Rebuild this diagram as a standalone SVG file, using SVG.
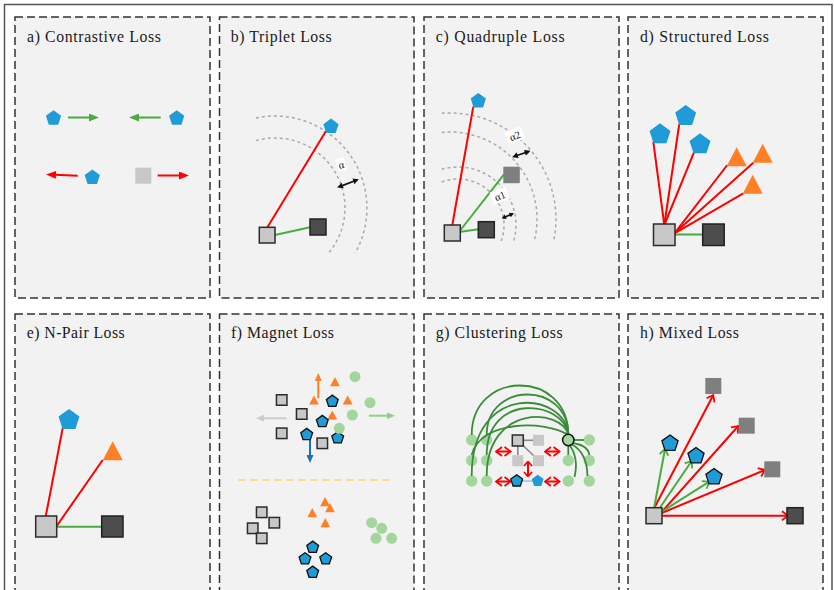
<svg xmlns="http://www.w3.org/2000/svg" xmlns:xlink="http://www.w3.org/1999/xlink" width="834" height="590" viewBox="0 0 834 590">
  <style>
    .frame { fill: #ffffff; stroke: #555555; stroke-width: 1.5; }
    .panel { fill: #f2f2f2; stroke: #333333; stroke-width: 1.5; stroke-dasharray: 8 4; }
    .title { font-family: "Liberation Serif", "Times New Roman", serif; font-size: 15.8px; fill: #1a1a1a; }
    .lbl { font-family: "Liberation Serif", "Times New Roman", serif; font-size: 10.5px; fill: #111111; }
    .lblbox { fill: #ffffff; }
    .ring { fill: none; stroke: #a9a9a9; stroke-width: 1.5; stroke-dasharray: 3 3; }
    .red { stroke: #ff0000; stroke-width: 2; fill: none; }
    .grn { stroke: #4aab3f; stroke-width: 2; fill: none; }
    .blk { stroke: #111111; stroke-width: 1.8; fill: none; }
    .anc { fill: #c8c8c8; stroke: #2b2b2b; stroke-width: 1.5; }
    .neg { fill: #4d4d4d; stroke: #222222; stroke-width: 1.5; }
    .mid { fill: #7f7f7f; }
    .lite { fill: #c8c8c8; }
    .blue { fill: #1f9bd8; }
    .blueS { fill: #1f9bd8; stroke: #111111; stroke-width: 1.3; }
    .ora { fill: #ff7f27; }
    .dot { fill: #a3d69c; }
    .arc { stroke: #3a8c3a; stroke-width: 1.8; fill: none; }
  </style>
  <defs>
    <!-- shape library -->
    <path id="p8" d="M0,-8 L7.61,-2.47 L4.70,6.47 L-4.70,6.47 L-7.61,-2.47 Z"/>
    <path id="p11" d="M0,-11 L10.46,-3.40 L6.47,8.90 L-6.47,8.90 L-10.46,-3.40 Z"/>
    <path id="p6" d="M0,-6.2 L5.90,-1.92 L3.64,5.02 L-3.64,5.02 L-5.90,-1.92 Z"/>
    <path id="p85" d="M0,-8.5 L8.08,-2.63 L5.00,6.88 L-5.00,6.88 L-8.08,-2.63 Z"/>
    <path id="t20" d="M0,-9.5 L10,9.5 L-10,9.5 Z"/>
    <path id="t9" d="M0,-4.6 L4.9,4.6 L-4.9,4.6 Z"/>
    <rect id="s10" x="-5.25" y="-5.25" width="10.5" height="10.5"/>
    <!-- arrowheads -->
    <marker id="ahG" viewBox="0 0 10 8" refX="7" refY="4" markerWidth="10" markerHeight="8" markerUnits="userSpaceOnUse" orient="auto"><path d="M0,0 L10,4 L0,8 Z" fill="#4aab3f"/></marker>
    <marker id="ahR" viewBox="0 0 10 8" refX="7" refY="4" markerWidth="10" markerHeight="8" markerUnits="userSpaceOnUse" orient="auto"><path d="M0,0 L10,4 L0,8 Z" fill="#ff0000"/></marker>
    <marker id="ahO" viewBox="0 0 8 7" refX="5" refY="3.5" markerWidth="8" markerHeight="7" markerUnits="userSpaceOnUse" orient="auto"><path d="M0,0 L8,3.5 L0,7 Z" fill="#ff7f27"/></marker>
    <marker id="ahB" viewBox="0 0 8 7" refX="5" refY="3.5" markerWidth="8" markerHeight="7" markerUnits="userSpaceOnUse" orient="auto"><path d="M0,0 L8,3.5 L0,7 Z" fill="#1a72b8"/></marker>
    <marker id="ahL" viewBox="0 0 8 7" refX="5" refY="3.5" markerWidth="8" markerHeight="7" markerUnits="userSpaceOnUse" orient="auto"><path d="M0,0 L8,3.5 L0,7 Z" fill="#8fd08a"/></marker>
    <marker id="ahY" viewBox="0 0 8 7" refX="5" refY="3.5" markerWidth="8" markerHeight="7" markerUnits="userSpaceOnUse" orient="auto"><path d="M0,0 L8,3.5 L0,7 Z" fill="#cccccc"/></marker>
    <marker id="ahK" viewBox="0 0 6 6" refX="4" refY="3" markerWidth="6" markerHeight="6" markerUnits="userSpaceOnUse" orient="auto-start-reverse"><path d="M0,0 L6,3 L0,6 Z" fill="#111111"/></marker>
    <marker id="ahKs" viewBox="0 0 4.5 5" refX="3" refY="2.5" markerWidth="4.5" markerHeight="5" markerUnits="userSpaceOnUse" orient="auto-start-reverse"><path d="M0,0 L4.5,2.5 L0,5 Z" fill="#111111"/></marker>
    <marker id="chR" viewBox="-1 -1 8 11" refX="6" refY="4.5" markerWidth="8" markerHeight="11" markerUnits="userSpaceOnUse" orient="auto-start-reverse"><path d="M0,0 L6,4.5 L0,9" fill="none" stroke="#ff0000" stroke-width="1.8"/></marker>
    <marker id="chRs" viewBox="-1 -1 6 10" refX="4.5" refY="4" markerWidth="6" markerHeight="10" markerUnits="userSpaceOnUse" orient="auto-start-reverse"><path d="M0,0 L4.5,4 L0,8" fill="none" stroke="#ff0000" stroke-width="1.8"/></marker>
    <marker id="chG" viewBox="-1 -1 8 11" refX="6" refY="4.5" markerWidth="8" markerHeight="11" markerUnits="userSpaceOnUse" orient="auto-start-reverse"><path d="M0,0 L6,4.5 L0,9" fill="none" stroke="#4aab3f" stroke-width="1.8"/></marker>
  </defs>

  <rect class="frame" x="4.5" y="4.5" width="827.5" height="620"/>

  <!-- ===== a) Contrastive Loss ===== -->
  <g id="panel-a">
    <rect class="panel" x="15" y="17" width="195" height="281"/>
    <text class="title" x="27" y="41.5" textLength="134" lengthAdjust="spacing">a) Contrastive Loss</text>
    <g id="a-nodes">
      <use href="#p8" class="blue" x="53.5" y="118.3"/>
      <use href="#p8" class="blue" x="176.7" y="118.3"/>
      <use href="#p8" class="blue" x="92.3" y="177.5"/>
      <rect class="lite" x="135.3" y="167.7" width="16" height="16"/>
    </g>
    <g id="a-connectors">
      <line class="grn" x1="68" y1="117.5" x2="96" y2="117.5" marker-end="url(#ahG)"/>
      <line class="grn" x1="160.7" y1="117.5" x2="132" y2="117.5" marker-end="url(#ahG)"/>
      <line class="red" x1="77.7" y1="175.7" x2="49" y2="174.6" marker-end="url(#ahR)"/>
      <line class="red" x1="157.7" y1="175.5" x2="186" y2="175.5" marker-end="url(#ahR)"/>
    </g>
  </g>

  <!-- ===== b) Triplet Loss ===== -->
  <g id="panel-b">
    <rect class="panel" x="219.5" y="17" width="194.5" height="281"/>
    <text class="title" x="230.7" y="41.5" textLength="101" lengthAdjust="spacing">b) Triplet Loss</text>
    <path class="ring" d="M256,118 A92,92 0 0 1 355.2,253"/>
    <path class="ring" d="M256,140.6 A70,70 0 0 1 328.6,253"/>
    <g id="b-connectors">
      <line class="red" x1="326" y1="131" x2="267.3" y2="227.5"/>
      <line class="grn" x1="275" y1="235" x2="310" y2="227.3"/>
      <line class="blk" x1="339" y1="186.8" x2="357" y2="180" marker-start="url(#ahK)" marker-end="url(#ahK)"/>
    </g>
    <g id="b-nodes">
      <rect class="anc" x="259.3" y="227.3" width="15.7" height="15.7"/>
      <rect class="neg" x="310" y="219" width="16" height="16"/>
      <use href="#p8" class="blue" x="331" y="126.6"/>
    </g>
    <g id="b-margin" transform="rotate(-15 341 165)">
      <rect class="lblbox" x="337" y="158.5" width="8.5" height="13"/>
      <text class="lbl" x="341.2" y="168.5" text-anchor="middle">α</text>
    </g>
  </g>

  <!-- ===== c) Quadruple Loss ===== -->
  <g id="panel-c">
    <rect class="panel" x="424" y="17" width="195" height="281"/>
    <text class="title" x="435.7" y="41.5" textLength="129" lengthAdjust="spacing">c) Quadruple Loss</text>
    <path class="ring" d="M441.7,113.3 A106,106 0 0 1 553.5,241.7"/>
    <path class="ring" d="M441.7,132.4 A87,87 0 0 1 534,241.7"/>
    <path class="ring" d="M441.7,169.3 A58,58 0 0 1 513.5,241.7"/>
    <path class="ring" d="M441.7,182 A46,46 0 0 1 500.9,241.7"/>
    <g id="c-connectors">
      <line class="red" x1="473.3" y1="106.7" x2="452.3" y2="225"/>
      <line class="grn" x1="459" y1="232" x2="504" y2="174.3"/>
      <line class="grn" x1="459" y1="232" x2="478.3" y2="229.3"/>
      <line class="blk" x1="514" y1="156.5" x2="528.7" y2="151.5" marker-start="url(#ahK)" marker-end="url(#ahK)"/>
      <line class="blk" x1="503" y1="217.8" x2="512.6" y2="213.8" stroke-width="1.6" marker-start="url(#ahKs)" marker-end="url(#ahKs)"/>
    </g>
    <g id="c-nodes">
      <rect class="anc" x="444.3" y="225" width="16" height="16"/>
      <rect class="neg" x="478.3" y="221.7" width="16" height="16"/>
      <rect class="mid" x="503.3" y="166.7" width="16.5" height="16.5"/>
      <use href="#p8" class="blue" x="478.3" y="101"/>
    </g>
    <g id="c-margin2" transform="rotate(-22 515 136)">
      <rect class="lblbox" x="506.5" y="129" width="17" height="13"/>
      <text class="lbl" x="515" y="139.5" text-anchor="middle">α2</text>
    </g>
    <g id="c-margin1" transform="rotate(-22 500 196)">
      <rect class="lblbox" x="491.5" y="189" width="17" height="13"/>
      <text class="lbl" x="500" y="199.5" text-anchor="middle">α1</text>
    </g>
  </g>

  <!-- ===== d) Structured Loss ===== -->
  <g id="panel-d">
    <rect class="panel" x="628" y="17" width="195" height="281"/>
    <text class="title" x="640" y="41.5" textLength="129" lengthAdjust="spacing">d) Structured Loss</text>
    <g id="d-connectors">
      <line class="red" x1="664.3" y1="225" x2="653.3" y2="141.7"/>
      <line class="red" x1="664.3" y1="225" x2="679.3" y2="124"/>
      <line class="red" x1="664.3" y1="225" x2="694" y2="152.3"/>
      <line class="red" x1="674.5" y1="233.3" x2="727.3" y2="165"/>
      <line class="red" x1="674.5" y1="233.3" x2="753.3" y2="162.7"/>
      <line class="red" x1="674.5" y1="233.3" x2="743.3" y2="193.3"/>
      <line class="grn" x1="675" y1="234.5" x2="703" y2="234.5"/>
    </g>
    <g id="d-nodes">
      <use href="#p11" class="blue" x="660" y="134.3"/>
      <use href="#p11" class="blue" x="685.7" y="116"/>
      <use href="#p11" class="blue" x="700" y="144.3"/>
      <use href="#t20" class="ora" x="736.7" y="156.7"/>
      <use href="#t20" class="ora" x="762.7" y="153.3"/>
      <use href="#t20" class="ora" x="752.7" y="184.3"/>
      <rect class="anc" x="653.5" y="224" width="21.5" height="21.5"/>
      <rect class="neg" x="702.7" y="224" width="21.5" height="21.5"/>
    </g>
  </g>

  <!-- ===== e) N-Pair Loss ===== -->
  <g id="panel-e">
    <rect class="panel" x="15" y="314" width="195" height="300"/>
    <text class="title" x="26.7" y="337.7" textLength="98" lengthAdjust="spacing">e) N-Pair Loss</text>
    <g id="e-connectors">
      <line class="red" x1="45.7" y1="516.5" x2="62.7" y2="428.3"/>
      <line class="red" x1="56.7" y1="526" x2="102.7" y2="460"/>
      <line class="grn" x1="56.7" y1="526.7" x2="101.7" y2="526.7"/>
    </g>
    <g id="e-nodes">
      <use href="#p11" class="blue" x="69" y="420"/>
      <use href="#t20" class="ora" x="112.7" y="450.7"/>
      <rect class="anc" x="35.7" y="516" width="21" height="21"/>
      <rect class="neg" x="101.7" y="516" width="21.3" height="21"/>
    </g>
  </g>

  <!-- ===== f) Magnet Loss ===== -->
  <g id="panel-f">
    <rect class="panel" x="219.5" y="314" width="194.5" height="300"/>
    <text class="title" x="231" y="337.7" textLength="103" lengthAdjust="spacing">f) Magnet Loss</text>
    <g id="f-connectors">
      <line stroke="#ff7f27" stroke-width="2" x1="318.3" y1="398.3" x2="318.3" y2="376" marker-end="url(#ahO)"/>
      <line stroke="#1a72b8" stroke-width="2" x1="310" y1="438.3" x2="310" y2="460" marker-end="url(#ahB)"/>
      <line stroke="#8fd08a" stroke-width="2" x1="369" y1="415.7" x2="392" y2="415.7" marker-end="url(#ahL)"/>
      <line stroke="#cccccc" stroke-width="2" x1="286.7" y1="418.3" x2="259" y2="418.3" marker-end="url(#ahY)"/>
      <line stroke="#f7d56a" stroke-width="1.6" stroke-dasharray="7 5" x1="238.3" y1="480" x2="392.7" y2="480"/>
    </g>
    <g id="f-before">
      <use href="#s10" class="anc" x="281.7" y="400"/>
      <use href="#s10" class="anc" x="301.7" y="414"/>
      <use href="#s10" class="anc" x="281.7" y="433.3"/>
      <use href="#s10" class="anc" x="322.3" y="443.3"/>
      <use href="#t9" class="ora" x="335" y="381.7"/>
      <use href="#t9" class="ora" x="314" y="400"/>
      <use href="#t9" class="ora" x="347.7" y="400"/>
      <use href="#t9" class="ora" x="332.3" y="415"/>
      <circle class="dot" cx="355" cy="376.7" r="5.5"/>
      <circle class="dot" cx="370" cy="402.7" r="5.5"/>
      <circle class="dot" cx="352.3" cy="415" r="5.5"/>
      <use href="#p6" class="blueS" x="332.3" y="401.3"/>
      <use href="#p6" class="blueS" x="322.3" y="421.6"/>
      <use href="#p6" class="blueS" x="306.7" y="434.6"/>
      <use href="#p6" class="blueS" x="337.7" y="437.9"/>
      <circle class="dot" cx="339.3" cy="428.3" r="5.5"/>
    </g>
    <g id="f-after">
      <use href="#s10" class="anc" x="261.7" y="512.3"/>
      <use href="#s10" class="anc" x="274.3" y="522.7"/>
      <use href="#s10" class="anc" x="252.7" y="528.3"/>
      <use href="#s10" class="anc" x="261.7" y="538.3"/>
      <use href="#t9" class="ora" x="325" y="501.7"/>
      <use href="#t9" class="ora" x="330" y="507.7"/>
      <use href="#t9" class="ora" x="312.3" y="512.7"/>
      <use href="#t9" class="ora" x="325.3" y="522.7"/>
      <use href="#p6" class="blueS" x="312.7" y="547.3"/>
      <use href="#p6" class="blueS" x="305" y="558.9"/>
      <use href="#p6" class="blueS" x="325.7" y="558.9"/>
      <use href="#p6" class="blueS" x="312.7" y="572.3"/>
      <circle class="dot" cx="371.7" cy="522.7" r="5.5"/>
      <circle class="dot" cx="381.7" cy="528.3" r="5.5"/>
      <circle class="dot" cx="376" cy="538.3" r="5.5"/>
      <circle class="dot" cx="391.7" cy="538.3" r="5.5"/>
    </g>
  </g>

  <!-- ===== g) Clustering Loss ===== -->
  <g id="panel-g">
    <rect class="panel" x="424" y="314" width="195" height="300"/>
    <text class="title" x="435.7" y="337.7" textLength="127" lengthAdjust="spacing">g) Clustering Loss</text>
    <g id="g-points">
      <circle class="dot" cx="471.7" cy="440" r="5.7"/>
      <circle class="dot" cx="486.7" cy="440" r="5.7"/>
      <circle class="dot" cx="471.7" cy="460.5" r="5.7"/>
      <circle class="dot" cx="486.7" cy="460.5" r="5.7"/>
      <circle class="dot" cx="471.7" cy="481" r="5.7"/>
      <circle class="dot" cx="486.7" cy="481" r="5.7"/>
      <circle class="dot" cx="589.3" cy="440" r="5.7"/>
      <circle class="dot" cx="568.3" cy="460.5" r="5.7"/>
      <circle class="dot" cx="589.3" cy="460.5" r="5.7"/>
      <circle class="dot" cx="568.3" cy="481" r="5.7"/>
      <circle class="dot" cx="589.3" cy="481" r="5.7"/>
    </g>
    <g id="g-connectors">
      <path class="arc" d="M568.3,435 C568.3,369 471.7,369 471.7,435"/>
      <path class="arc" d="M568.3,435 C568.3,381 486.7,381 486.7,435"/>
      <path class="arc" d="M568.3,435 C566,392 471.7,380 471.7,476"/>
      <path class="arc" d="M568.3,435 C564,400 486.7,392 486.7,455"/>
      <path class="arc" d="M568.3,435 C562,408 486.7,404 486.7,476"/>
      <path class="arc" d="M568.3,435 C545,420 480,420 471.7,455"/>
      <line class="arc" x1="573" y1="440" x2="584" y2="440"/>
      <line class="arc" x1="568.3" y1="445" x2="568.3" y2="455"/>
      <path class="arc" d="M572,443 Q588,445 589.3,455"/>
      <path class="arc" d="M571,444 Q587,452 587.5,476"/>
      <path class="arc" d="M569.5,445 Q579,458 574.5,477"/>
      <line stroke="#8a8a8a" stroke-width="1.6" x1="523" y1="440.3" x2="533" y2="440.3"/>
      <line stroke="#8a8a8a" stroke-width="1.6" x1="517.8" y1="446" x2="517.8" y2="455"/>
      <line stroke="#8a8a8a" stroke-width="1.6" x1="522.5" y1="445" x2="534" y2="456"/>
      <line stroke="#9fd0ee" stroke-width="1.8" x1="522" y1="481" x2="533" y2="481"/>
      <line class="red" x1="496" y1="451.5" x2="510.5" y2="451.5" marker-start="url(#chR)" marker-end="url(#chR)"/>
      <line class="red" x1="545" y1="451.5" x2="559.5" y2="451.5" marker-start="url(#chR)" marker-end="url(#chR)"/>
      <line class="red" x1="528" y1="461.5" x2="528" y2="476.5" marker-start="url(#chRs)" marker-end="url(#chRs)"/>
      <line class="red" x1="496" y1="481.5" x2="510.5" y2="481.5" marker-start="url(#chR)" marker-end="url(#chR)"/>
      <line class="red" x1="545" y1="481.5" x2="559.5" y2="481.5" marker-start="url(#chR)" marker-end="url(#chR)"/>
    </g>
    <g id="g-nodes">
      <circle cx="568.3" cy="440" r="5.7" fill="#a3d69c" stroke="#111111" stroke-width="1.5"/>
      <rect class="anc" x="512.3" y="435" width="11" height="11"/>
      <rect class="lite" x="533" y="434.8" width="11" height="11"/>
      <rect class="lite" x="512.3" y="455.2" width="11" height="11"/>
      <rect class="lite" x="533" y="455.2" width="11" height="11"/>
      <use href="#p6" class="blueS" x="516.7" y="481"/>
      <use href="#p6" class="blue" x="537.7" y="481"/>
    </g>
  </g>

  <!-- ===== h) Mixed Loss ===== -->
  <g id="panel-h">
    <rect class="panel" x="628" y="314" width="195" height="300"/>
    <text class="title" x="640" y="337.7" textLength="99" lengthAdjust="spacing">h) Mixed Loss</text>
    <g id="h-connectors">
      <line class="red" x1="654" y1="508.5" x2="713.3" y2="395" marker-end="url(#chR)"/>
      <line class="red" x1="661.7" y1="512" x2="738.3" y2="426" marker-end="url(#chR)"/>
      <line class="red" x1="661.7" y1="513" x2="765" y2="470" marker-end="url(#chR)"/>
      <line class="red" x1="661.7" y1="515.7" x2="788" y2="515.7" marker-end="url(#chR)"/>
      <line class="grn" x1="654" y1="508.5" x2="665" y2="449" marker-end="url(#chG)"/>
      <line class="grn" x1="659" y1="509" x2="691.7" y2="461" marker-end="url(#chG)"/>
      <line class="grn" x1="661.7" y1="511.7" x2="709.3" y2="481.7" marker-end="url(#chG)"/>
    </g>
    <g id="h-nodes">
      <rect class="anc" x="646" y="507.7" width="16" height="16"/>
      <rect class="neg" x="787" y="507.7" width="16" height="16"/>
      <rect class="mid" x="705.3" y="378" width="16" height="16"/>
      <rect class="mid" x="738.7" y="417.7" width="16" height="16"/>
      <rect class="mid" x="764.3" y="461.3" width="16" height="16"/>
      <use href="#p85" class="blueS" x="670" y="443.5"/>
      <use href="#p85" class="blueS" x="696" y="456"/>
      <use href="#p85" class="blueS" x="714" y="477"/>
    </g>
  </g>
</svg>
